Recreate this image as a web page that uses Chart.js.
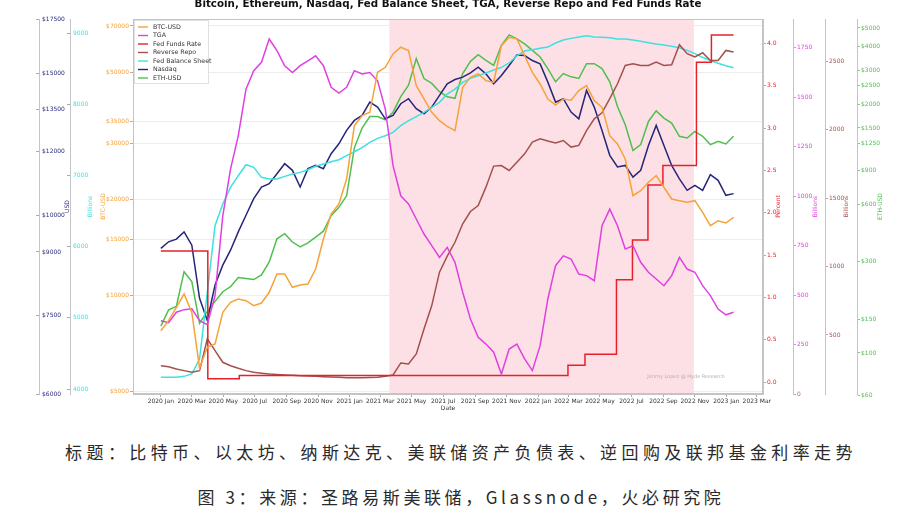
<!DOCTYPE html>
<html>
<head>
<meta charset="utf-8">
<script src="https://cdn.jsdelivr.net/npm/chart.js@4.4.0/dist/chart.umd.min.js"></script>
<style>
  html, body { margin: 0; padding: 0; background: #fff; }
  #wrap { position: relative; width: 922px; height: 415px; }
  .cap { position: absolute; left: 0; width: 922px; text-align: center; font-family: "Noto Sans CJK SC"; font-size: 17px; line-height: 24px; color: #2a2a2a; white-space: nowrap; }
</style>
</head>
<body>
<div id="wrap"><canvas id="chart" width="922" height="415"></canvas></div>
<div class="cap" style="top:440px; letter-spacing:4.4px;">标题：比特币、以太坊、纳斯达克、美联储资产负债表、逆回购及联邦基金利率走势</div>
<div class="cap" style="top:485px; letter-spacing:3.6px;">图 3：来源：圣路易斯美联储，Glassnode，火必研究院</div>
<script>
// days since 2020-01-01, sampled every 15 days
const days = [0, 15, 30, 45, 60, 75, 90, 105, 120, 135, 150, 165, 180, 195, 210, 225, 240, 255, 270, 285,
  300, 315, 330, 345, 360, 375, 390, 405, 420, 435, 450, 465, 480, 495, 510, 525, 540, 555, 570, 585,
  600, 615, 630, 645, 660, 675, 690, 705, 720, 735, 750, 765, 780, 795, 810, 825, 840, 855, 870, 885,
  900, 915, 930, 945, 960, 975, 990, 1005, 1020, 1035, 1050, 1065, 1080, 1095, 1110];

const btc = [7727, 8313, 9156, 10083, 8831, 5900, 6857, 7023, 8831, 9494, 9727, 9607, 9268, 9448, 10209, 11652, 11652, 10583, 10760, 10839,
  12078, 15005, 17975, 19329, 23158, 34041, 36600, 37497, 50061, 51907, 57169, 60006, 58547, 45464, 41288, 37497, 35290, 33884, 32830, 44934,
  48300, 49470, 47136, 46585, 60714, 64483, 63716, 56475, 50061, 46018, 41288, 39500, 41288, 40900, 43850, 45464, 40786, 38877, 31667, 29823,
  26760, 20521, 21276, 22611, 23714, 21806, 20035, 19792, 19565, 19792, 18197, 16520, 17128, 16846, 17556];

const nasdaq = [9092, 9265, 9336, 9532, 9177, 7884, 7400, 8188, 8667, 9045, 9532, 9995, 10481, 10834, 10937, 11253, 11579, 11362, 10834, 11415,
  11522, 11415, 11912, 12257, 12733, 13101, 13290, 13803, 13609, 13162, 13290, 13740, 13939, 13547, 13353, 13609, 14071, 14545, 14723, 14823,
  15005, 15249, 14962, 14545, 14893, 15323, 15795, 15766, 15543, 15395, 14615, 13803, 13939, 13418, 13162, 14270, 13609, 12733, 11858, 11471,
  11522, 11144, 11362, 12199, 12915, 12199, 11522, 11090, 10732, 10885, 10732, 11220, 11041, 10580, 10631];

const fedBalance = [4164, 4164, 4164, 4178, 4211, 4421, 5358, 6294, 6598, 6833, 6996, 7150, 7113, 6973, 6949, 6949, 6987, 7020, 7043, 7080,
  7128, 7160, 7193, 7221, 7277, 7333, 7389, 7465, 7521, 7558, 7605, 7698, 7768, 7825, 7886, 7956, 8026, 8143, 8213, 8307,
  8363, 8400, 8438, 8480, 8518, 8579, 8681, 8747, 8766, 8785, 8803, 8860, 8902, 8925, 8944, 8962, 8944, 8939, 8934, 8916,
  8916, 8902, 8883, 8864, 8846, 8831, 8813, 8794, 8757, 8710, 8659, 8612, 8575, 8541, 8513];

const tga = [370, 360, 413, 426, 430, 370, 350, 497, 900, 1136, 1304, 1540, 1633, 1675, 1793, 1734, 1658, 1624, 1658, 1683,
  1708, 1658, 1549, 1520, 1549, 1633, 1616, 1624, 1582, 1439, 1153, 1001, 960, 884, 808, 749, 690, 741, 665, 514,
  379, 286, 252, 211, 101, 227, 252, 177, 118, 244, 480, 648, 698, 682, 606, 598, 572, 850, 934, 850,
  732, 749, 665, 615, 581, 547, 598, 690, 631, 615, 547, 497, 429, 400, 413];

const reverseRepo = [275, 268, 251, 239, 227, 239, 471, 385, 300, 275, 256, 239, 227, 220, 214, 210, 207, 205, 202, 200,
  197, 195, 192, 190, 187, 187, 187, 188, 190, 197, 207, 295, 288, 361, 544, 715, 959, 1076, 1178, 1313,
  1403, 1447, 1581, 1735, 1739, 1703, 1764, 1825, 1910, 1935, 1918, 1905, 1922, 1874, 1886, 1995, 2081, 2125, 2228, 2337,
  2471, 2484, 2471, 2471, 2496, 2471, 2476, 2623, 2557, 2533, 2564, 2508, 2508, 2581, 2569];

const eth = [138, 168, 175, 266, 236, 143, 165, 186, 209, 222, 248, 245, 242, 256, 299, 395, 420, 380, 358, 376,
  403, 433, 522, 577, 663, 1181, 1498, 1722, 1722, 1655, 1814, 2186, 2513, 3454, 2721, 2564, 2321, 2186, 2144, 2888,
  3347, 3624, 3387, 3190, 4051, 4599, 4385, 4132, 3815, 3524, 3066, 2616, 2888, 2776, 2721, 3254, 3254, 3066, 2616, 1941,
  1559, 1144, 1228, 1623, 1843, 1689, 1591, 1357, 1330, 1440, 1357, 1228, 1278, 1238, 1357];

// Fed funds rate, monthly steps
const ffrDays = [0, 91, 152, 789, 822, 883, 914, 944, 973, 1038, 1067, 1110];
const ffrValues = [1.55, 0.04, 0.08, 0.20, 0.33, 1.21, 1.68, 2.33, 2.56, 3.78, 4.10, 4.10];

const tickDays = [0, 60, 121, 182, 244, 305, 366, 425, 486, 547, 609, 670, 731, 790, 851, 912, 974, 1035, 1096, 1155];
const tickLabels = ["2020 Jan", "2020 Mar", "2020 May", "2020 Jul", "2020 Sep", "2020 Nov", "2021 Jan", "2021 Mar", "2021 May", "2021 Jul",
  "2021 Sep", "2021 Nov", "2022 Jan", "2022 Mar", "2022 May", "2022 Jul", "2022 Sep", "2022 Nov", "2023 Jan", "2023 Mar"];

const nasdaqTicks = [6000, 7500, 9000, 10000, 12000, 13500, 15000, 17500];
const fedTicks = [4000, 5000, 6000, 7000, 8000, 9000];
const btcTicks = [5000, 10000, 15000, 20000, 30000, 35000, 50000, 70000];
const ffrTicks = [0, 0.5, 1, 1.5, 2, 2.5, 3, 3.5, 4];
const tgaTicks = [0, 250, 500, 750, 1000, 1250, 1500, 1750];
const rrpTicks = [500, 1000, 1500, 2000, 2500];
const ethTicks = [60, 100, 150, 300, 600, 900, 1250, 1500, 2000, 2500, 3000, 4000, 5000];

const shadeFrom = 443;
const shadeTo = 1033;

const FONT = "DejaVu Sans";
const pts = (xs, ys) => xs.map((x, i) => ({ x, y: ys[i] }));
const fixedTicks = (vals) => (scale) => { scale.ticks = vals.map((v) => ({ value: v })); };
const setWidth = (w) => (scale) => { scale.width = w; };

const yAxis = (opts) => ({
  type: opts.type || "linear",
  position: opts.position,
  weight: opts.weight,
  min: opts.min,
  max: opts.max,
  afterBuildTicks: fixedTicks(opts.ticks),
  afterFit: setWidth(opts.width),
  border: { color: "#c4c4c4", width: 1 },
  grid: {
    drawOnChartArea: !!opts.grid,
    color: "rgba(0,0,0,0.07)",
    tickColor: "#aaa",
    tickLength: 3,
  },
  ticks: {
    mirror: !!opts.mirror,
    padding: opts.mirror ? 3 : 1,
    color: opts.color,
    font: { family: FONT, size: 6 },
    callback: opts.fmt,
  },
});

const dollars = (v) => "$" + v;

const axisTitles = [
  { id: "yNas", text: "USD", color: "#2a2a80", side: "right", off: 28 },
  { id: "yFed", text: "Billions", color: "#3fe0e0", side: "right", off: 20 },
  { id: "yBtc", text: "BTC-USD", color: "#f6a23a", side: "right", off: -30 },
  { id: "yFfr", text: "Percent", color: "#e8202a", side: "left", off: 15 },
  { id: "yTga", text: "Billions", color: "#e040e0", side: "left", off: 22 },
  { id: "yRrp", text: "Billions", color: "#a3514c", side: "left", off: 21 },
  { id: "yEth", text: "ETH-USD", color: "#4fbf4f", side: "left", off: 23 },
];

const decor = {
  id: "decor",
  beforeDatasetsDraw(chart) {
    const { ctx, chartArea: a, scales } = chart;
    const x1 = scales.x.getPixelForValue(shadeFrom);
    const x2 = scales.x.getPixelForValue(shadeTo);
    ctx.save();
    ctx.fillStyle = "#fde0e5";
    ctx.fillRect(x1, a.top, x2 - x1, a.bottom - a.top);
    ctx.restore();
  },
  afterDraw(chart) {
    const { ctx, chartArea: a, scales } = chart;
    ctx.save();
    // frame
    ctx.strokeStyle = "#c4c4c4";
    ctx.lineWidth = 1;
    ctx.strokeRect(a.left + 0.5, a.top + 0.5, a.right - a.left - 1, a.bottom - a.top - 1);

    // title
    ctx.fillStyle = "#111";
    ctx.font = "bold 10.3px " + FONT;
    ctx.textAlign = "center";
    ctx.textBaseline = "alphabetic";
    ctx.fillText("Bitcoin, Ethereum, Nasdaq, Fed Balance Sheet, TGA, Reverse Repo and Fed Funds Rate", (a.left + a.right) / 2, 7);

    // axis titles
    ctx.font = "6px " + FONT;
    ctx.textBaseline = "middle";
    const midY = (a.top + a.bottom) / 2;
    axisTitles.forEach((t) => {
      const s = scales[t.id];
      const x = (t.side === "right" ? s.right : s.left) + t.off;
      ctx.save();
      ctx.translate(x, midY);
      ctx.rotate(-Math.PI / 2);
      ctx.fillStyle = t.color;
      ctx.fillText(t.text, 0, 0);
      ctx.restore();
    });

    // x title
    ctx.fillStyle = "#333";
    ctx.fillText("Date", (a.left + a.right) / 2, a.bottom + 14);

    // watermark
    ctx.fillStyle = "#b0b0b0";
    ctx.font = "5px " + FONT;
    ctx.fillText("Jimmy Lopez @ Hyde Research", 686, a.bottom - 17);

    // legend
    const lx = a.left + 1, ly = a.top + 1;
    ctx.fillStyle = "rgba(255,255,255,0.85)";
    ctx.fillRect(lx, ly, 74, 63);
    ctx.strokeStyle = "#e0e0e0";
    ctx.strokeRect(lx + 0.5, ly + 0.5, 74, 63);
    ctx.font = "6.3px " + FONT;
    ctx.textAlign = "left";
    chart.data.datasets.forEach((ds, i) => {
      const y = ly + 7 + i * 8.5;
      ctx.strokeStyle = ds.borderColor;
      ctx.lineWidth = 1.4;
      ctx.beginPath();
      ctx.moveTo(lx + 4, y);
      ctx.lineTo(lx + 14, y);
      ctx.stroke();
      ctx.fillStyle = "#333";
      ctx.fillText(ds.label, lx + 19, y);
    });
    ctx.restore();
  },
};

const line = (label, data, color, axis, extra) => Object.assign({
  label, data, borderColor: color, yAxisID: axis,
  borderWidth: 1.5, pointRadius: 0, tension: 0, fill: false,
}, extra || {});

new Chart(document.getElementById("chart"), {
  type: "line",
  data: {
    datasets: [
      line("BTC-USD", pts(days, btc), "#f6a23a", "yBtc"),
      line("TGA", pts(days, tga), "#e040e0", "yTga"),
      line("Fed Funds Rate", pts(ffrDays, ffrValues), "#e8202a", "yFfr", { stepped: true }),
      line("Reverse Repo", pts(days, reverseRepo), "#a3514c", "yRrp"),
      line("Fed Balance Sheet", pts(days, fedBalance), "#3fe0e0", "yFed"),
      line("Nasdaq", pts(days, nasdaq), "#25257a", "yNas"),
      line("ETH-USD", pts(days, eth), "#4fbf4f", "yEth"),
    ],
  },
  options: {
    responsive: false,
    animation: false,
    events: [],
    layout: { padding: { top: 19, left: 0, right: 0, bottom: 0 } },
    plugins: { legend: { display: false }, tooltip: { enabled: false } },
    scales: {
      x: {
        type: "linear",
        min: -54,
        max: 1167,
        afterBuildTicks: fixedTicks(tickDays),
        afterFit: (s) => { s.height = 21; },
        border: { color: "#c4c4c4" },
        grid: { drawOnChartArea: false, tickLength: 3, tickColor: "#aaa" },
        ticks: {
          autoSkip: false, maxRotation: 0, padding: 1, color: "#333",
          font: { family: FONT, size: 6 },
          callback: (v, i) => tickLabels[i],
        },
      },
      yNas: yAxis({ type: "logarithmic", position: "left", weight: 3, min: 6000, max: 17500, ticks: nasdaqTicks, width: 39, mirror: true, color: "#2a2a80", fmt: dollars }),
      yFed: yAxis({ position: "left", weight: 2, min: 3930, max: 9197, ticks: fedTicks, width: 31, mirror: true, color: "#3fe0e0", fmt: (v) => String(v) }),
      yBtc: yAxis({ type: "logarithmic", position: "left", weight: 1, min: 4894, max: 73600, ticks: btcTicks, width: 63, grid: true, color: "#f6a23a", fmt: dollars }),
      yFfr: yAxis({ position: "right", weight: 1, min: -0.14, max: 4.29, ticks: ffrTicks, width: 30, color: "#e8202a", fmt: (v) => v.toFixed(1) }),
      yTga: yAxis({ position: "right", weight: 2, min: 0, max: 1894, ticks: tgaTicks, width: 32, color: "#e040e0", fmt: (v) => String(v) }),
      yRrp: yAxis({ position: "right", weight: 3, min: 68, max: 2811, ticks: rrpTicks, width: 32, color: "#a3514c", fmt: (v) => String(v) }),
      yEth: yAxis({ type: "logarithmic", position: "right", weight: 4, min: 61, max: 5570, ticks: ethTicks, width: 65, color: "#4fbf4f", fmt: dollars }),
    },
  },
  plugins: [decor],
});
</script>
</body>
</html>
